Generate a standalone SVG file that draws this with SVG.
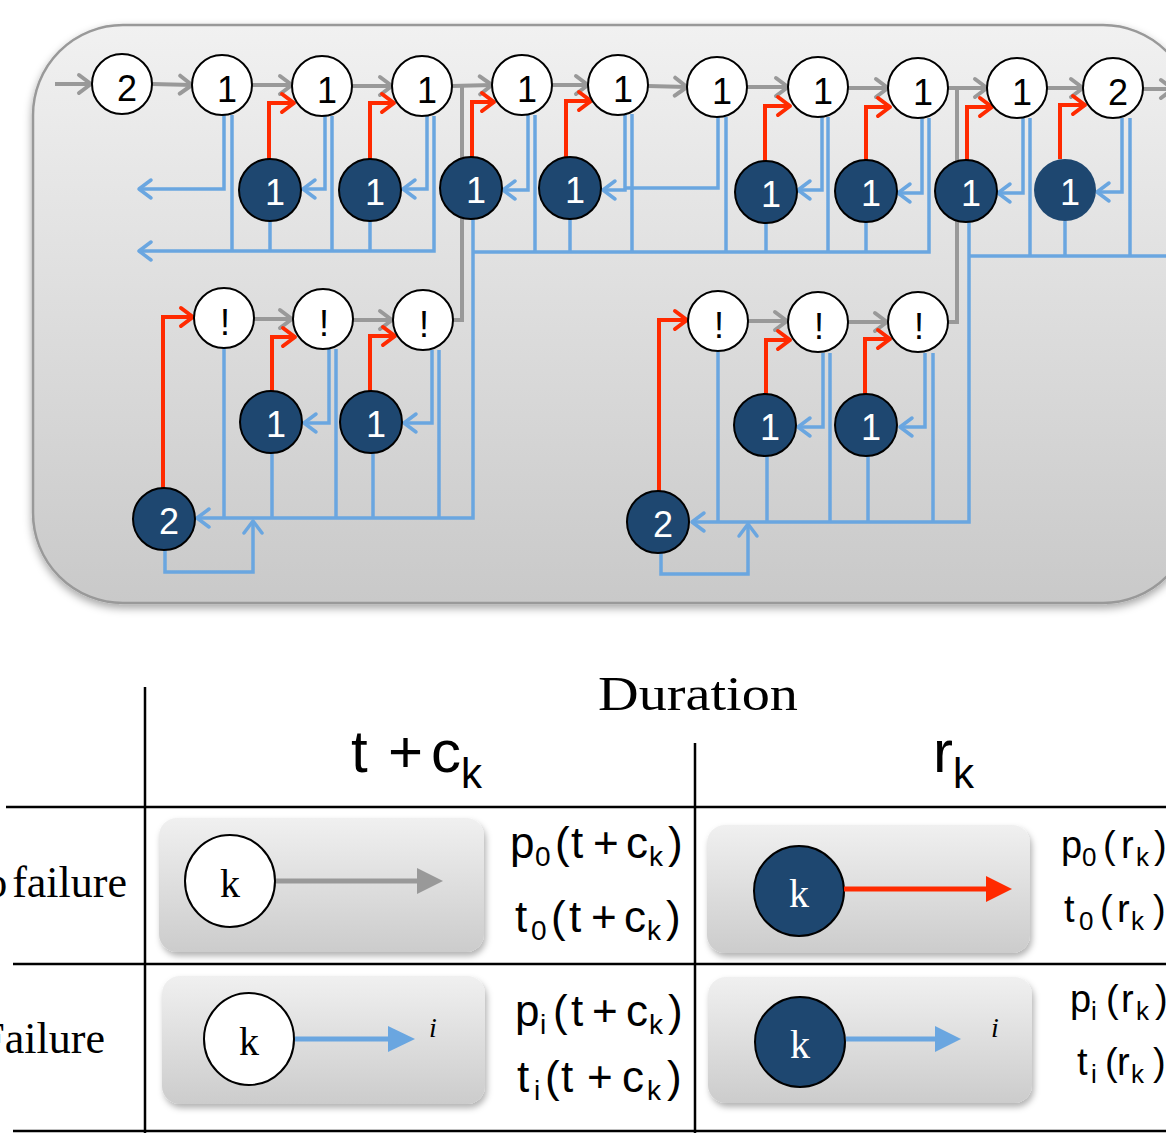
<svg xmlns="http://www.w3.org/2000/svg" width="1166" height="1133" viewBox="0 0 1166 1133">
<defs>
<linearGradient id="fg" x1="0" y1="0" x2="0" y2="1"><stop offset="0" stop-color="#f1f1f1"/><stop offset="1" stop-color="#c9c9c9"/></linearGradient>
<linearGradient id="bxg" x1="0" y1="0" x2="0" y2="1"><stop offset="0" stop-color="#f0f0f0"/><stop offset="1" stop-color="#cccccc"/></linearGradient>
<filter id="sh" x="-10%" y="-10%" width="120%" height="130%"><feDropShadow dx="0" dy="4" stdDeviation="4" flood-color="#000" flood-opacity="0.35"/></filter>
<filter id="sh2" x="-10%" y="-10%" width="120%" height="130%"><feDropShadow dx="2" dy="4" stdDeviation="3" flood-color="#000" flood-opacity="0.3"/></filter>
<marker id="mg" viewBox="-15 -12 18 24" refX="0" refY="0" markerWidth="18" markerHeight="24" markerUnits="userSpaceOnUse" orient="auto"><path d="M-12,-9 L0,0 L-12,9" fill="none" stroke="#999" stroke-width="4" stroke-linecap="round" stroke-linejoin="round"/></marker>
<marker id="mr" viewBox="-15 -12 18 24" refX="0" refY="0" markerWidth="18" markerHeight="24" markerUnits="userSpaceOnUse" orient="auto"><path d="M-12,-9 L0,0 L-12,9" fill="none" stroke="#ff2a00" stroke-width="4" stroke-linecap="round" stroke-linejoin="round"/></marker>
<marker id="mb" viewBox="-15 -12 18 24" refX="0" refY="0" markerWidth="18" markerHeight="24" markerUnits="userSpaceOnUse" orient="auto"><path d="M-12,-9 L0,0 L-12,9" fill="none" stroke="#6aa6e0" stroke-width="3.5" stroke-linecap="round" stroke-linejoin="round"/></marker>
</defs>
<style>
.g{fill:none;stroke:#999;stroke-width:4}
.r{fill:none;stroke:#ff2a00;stroke-width:4}
.b{fill:none;stroke:#6aa6e0;stroke-width:3.5}
.ga{marker-end:url(#mg)}
.ra{marker-end:url(#mr)}
.ba{marker-end:url(#mb)}
.wn circle{fill:#fff;stroke:#000;stroke-width:2}
.dn circle{fill:#1e4770;stroke:#000;stroke-width:2}
.wn text{fill:#000;font-family:"Liberation Sans",Arial,sans-serif;font-size:36px;text-anchor:middle}
.dn text{fill:#fff;font-family:"Liberation Sans",Arial,sans-serif;font-size:36px;text-anchor:middle}
.box{fill:url(#bxg);filter:url(#sh2)}
.tl{stroke:#000;stroke-width:2.5;fill:none}
.ser{font-family:"Liberation Serif","Times New Roman",serif}
.sans{font-family:"Liberation Sans",Arial,sans-serif}
.kw{fill:#fff;stroke:#000;stroke-width:2}
.kd{fill:#1e4770;stroke:#000;stroke-width:2}
</style>

<rect id="frame" x="33" y="25" width="1160" height="578" rx="90" ry="90" fill="url(#fg)" stroke="#999" stroke-width="2.5" filter="url(#sh)"/>

<g id="connectors">
<path class="g ga" d="M55,84 H91"/>
<path class="g ga" d="M152,84 L192,85"/>
<path class="g ga" d="M252,85 H292"/>
<path class="g ga" d="M352,86 H392"/>
<path class="g ga" d="M452,86 L492,85"/>
<path class="g ga" d="M552,85 H588"/>
<path class="g ga" d="M648,86 L687,87"/>
<path class="g ga" d="M747,87 H788"/>
<path class="g ga" d="M848,88 H888"/>
<path class="g ga" d="M948,88 H987"/>
<path class="g ga" d="M1047,88 H1083"/>
<path class="g ga" d="M1143,89 H1173"/>
<path class="g" d="M453,320 H462 V86"/>
<path class="g" d="M948,322 H957 V88"/>
<path class="g ga" d="M254,319 H292"/>
<path class="g ga" d="M353,320 H392"/>
<path class="g ga" d="M748,321 H787"/>
<path class="g ga" d="M848,322 H887"/>
<path class="r ra" d="M269,159 V103 H294"/>
<path class="r ra" d="M370,159 V103 H394"/>
<path class="r ra" d="M472,157 V102 H494"/>
<path class="r ra" d="M566,157 V101 H591"/>
<path class="r ra" d="M765,161 V106 H790"/>
<path class="r ra" d="M866,160 V107 H890"/>
<path class="r ra" d="M967,160 V107 H992"/>
<path class="r ra" d="M1060,159 V105 H1085"/>
<path class="r ra" d="M163,488 V317 H193"/>
<path class="r ra" d="M272,391 V337 H295"/>
<path class="r ra" d="M370,391 V336 H395"/>
<path class="r ra" d="M659,491 V320 H687"/>
<path class="r ra" d="M766,394 V340 H790"/>
<path class="r ra" d="M865,394 V339 H890"/>
<path class="b ba" d="M224,115 V189 H139"/>
<path class="b ba" d="M434,116 V251 H139"/>
<path class="b ba" d="M325,116 V189 H303"/>
<path class="b ba" d="M427,116 V189 H403"/>
<path class="b ba" d="M528,115 V190 H503"/>
<path class="b ba" d="M625,114 V190 H603"/>
<path class="b ba" d="M822,117 V190 H798"/>
<path class="b ba" d="M922,118 V193 H898"/>
<path class="b ba" d="M1023,118 V193 H998"/>
<path class="b ba" d="M1122,118 V192 H1097"/>
<path class="b ba" d="M329,349 V423 H304"/>
<path class="b ba" d="M432,350 V423 H404"/>
<path class="b ba" d="M473,219 V518 H197"/>
<path class="b ba" d="M165,550 V572 H253 V521"/>
<path class="b ba" d="M823,353 V427 H798"/>
<path class="b ba" d="M925,353 V427 H900"/>
<path class="b ba" d="M969,222 V522 H692"/>
<path class="b ba" d="M661,553 V574 H748 V524"/>
<path class="b" d="M232,115 V251"/>
<path class="b" d="M270,221 V251"/>
<path class="b" d="M332,116 V251"/>
<path class="b" d="M370,221 V251"/>
<path class="b" d="M473,252 H929 V118"/>
<path class="b" d="M535,115 V252"/>
<path class="b" d="M570,219 V252"/>
<path class="b" d="M632,114 V252"/>
<path class="b" d="M718,117 V188 H626"/>
<path class="b" d="M726,117 V252"/>
<path class="b" d="M766,223 V252"/>
<path class="b" d="M828,117 V252"/>
<path class="b" d="M866,222 V252"/>
<path class="b" d="M969,256 H1170"/>
<path class="b" d="M1030,118 V256"/>
<path class="b" d="M1065,221 V256"/>
<path class="b" d="M1130,118 V256"/>
<path class="b" d="M224,348 V518"/>
<path class="b" d="M336,349 V518"/>
<path class="b" d="M272,453 V518"/>
<path class="b" d="M373,453 V518"/>
<path class="b" d="M439,350 V518"/>
<path class="b" d="M718,352 V522"/>
<path class="b" d="M830,353 V522"/>
<path class="b" d="M767,456 V522"/>
<path class="b" d="M868,456 V522"/>
<path class="b" d="M933,353 V522"/>
</g>

<g id="T1" class="wn"><circle cx="122" cy="84" r="30"/><text x="127" y="101">2</text></g>
<g id="T2" class="wn"><circle cx="222" cy="85" r="30"/><text x="227" y="102">1</text></g>
<g id="T3" class="wn"><circle cx="322" cy="86" r="30"/><text x="327" y="103">1</text></g>
<g id="T4" class="wn"><circle cx="422" cy="86" r="30"/><text x="427" y="103">1</text></g>
<g id="T5" class="wn"><circle cx="522" cy="85" r="30"/><text x="527" y="102">1</text></g>
<g id="T6" class="wn"><circle cx="618" cy="85" r="30"/><text x="623" y="102">1</text></g>
<g id="T7" class="wn"><circle cx="717" cy="87" r="30"/><text x="722" y="104">1</text></g>
<g id="T8" class="wn"><circle cx="818" cy="87" r="30"/><text x="823" y="104">1</text></g>
<g id="T9" class="wn"><circle cx="918" cy="88" r="30"/><text x="923" y="105">1</text></g>
<g id="T10" class="wn"><circle cx="1017" cy="88" r="30"/><text x="1022" y="105">1</text></g>
<g id="T11" class="wn"><circle cx="1113" cy="88" r="30"/><text x="1118" y="105">2</text></g>

<g id="D1" class="dn"><circle cx="270" cy="190" r="31"/><text x="275" y="205">1</text></g>
<g id="D2" class="dn"><circle cx="370" cy="190" r="31"/><text x="375" y="205">1</text></g>
<g id="D3" class="dn"><circle cx="471" cy="188" r="31"/><text x="476" y="203">1</text></g>
<g id="D4" class="dn"><circle cx="570" cy="188" r="31"/><text x="575" y="203">1</text></g>
<g id="D5" class="dn"><circle cx="766" cy="192" r="31"/><text x="771" y="207">1</text></g>
<g id="D6" class="dn"><circle cx="866" cy="191" r="31"/><text x="871" y="206">1</text></g>
<g id="D7" class="dn"><circle cx="966" cy="191" r="31"/><text x="971" y="206">1</text></g>
<g id="D8" class="dn"><circle cx="1065" cy="190" r="31" style="stroke:none"/><text x="1070" y="205">1</text></g>

<g id="LA" class="wn"><circle cx="224" cy="318" r="30"/><text x="225" y="335">!</text></g>
<g id="LB" class="wn"><circle cx="323" cy="319" r="30"/><text x="324" y="336">!</text></g>
<g id="LC" class="wn"><circle cx="423" cy="320" r="30"/><text x="424" y="337">!</text></g>
<g id="LD1" class="dn"><circle cx="271" cy="422" r="31"/><text x="276" y="437">1</text></g>
<g id="LD2" class="dn"><circle cx="371" cy="422" r="31"/><text x="376" y="437">1</text></g>
<g id="L2" class="dn"><circle cx="164" cy="519" r="31"/><text x="169" y="534">2</text></g>

<g id="RA" class="wn"><circle cx="718" cy="321" r="30"/><text x="719" y="338">!</text></g>
<g id="RB" class="wn"><circle cx="818" cy="322" r="30"/><text x="819" y="339">!</text></g>
<g id="RC" class="wn"><circle cx="918" cy="322" r="30"/><text x="919" y="339">!</text></g>
<g id="RD1" class="dn"><circle cx="765" cy="425" r="31"/><text x="770" y="440">1</text></g>
<g id="RD2" class="dn"><circle cx="866" cy="425" r="31"/><text x="871" y="440">1</text></g>
<g id="R2" class="dn"><circle cx="658" cy="522" r="31"/><text x="663" y="537">2</text></g>

<g id="table">
<path class="tl" d="M145,687 V1133 M695,743 V1133 M6,807 H1166 M13,964 H1166 M13,1131 H1166"/>
<text class="ser" x="598" y="710" font-size="48" textLength="200" lengthAdjust="spacingAndGlyphs">Duration</text>
<text class="sans" y="772" font-size="60"><tspan x="351">t</tspan><tspan x="388">+</tspan><tspan x="431">c</tspan><tspan x="461" y="788" font-size="42">k</tspan></text>
<text class="sans" y="772" font-size="60"><tspan x="933">r</tspan><tspan x="953" y="788" font-size="42">k</tspan></text>
<text class="ser" x="127" y="897" font-size="44" text-anchor="end" word-spacing="-6">No failure</text>
<text class="ser" x="105" y="1053" font-size="44" text-anchor="end">Failure</text>
</g>

<g id="cell-nf-t">
<rect class="box" x="159" y="818" width="325" height="134" rx="18"/>
<ellipse class="kw" cx="230" cy="881" rx="45" ry="46"/>
<text class="ser" x="230" y="897" font-size="40" text-anchor="middle">k</text>
<line x1="276" y1="881" x2="420" y2="881" stroke="#999" stroke-width="5"/>
<polygon points="417,868 443,881 417,894" fill="#999"/>
<text class="sans" y="858" font-size="44"><tspan x="510">p</tspan><tspan x="535" y="866" font-size="28">0</tspan><tspan x="555" y="858">(</tspan><tspan x="571">t</tspan><tspan x="593">+</tspan><tspan x="626">c</tspan><tspan x="649" y="866" font-size="28">k</tspan><tspan x="668" y="858">)</tspan></text>
<text class="sans" y="932" font-size="44"><tspan x="515">t</tspan><tspan x="531" y="940" font-size="28">0</tspan><tspan x="551" y="932">(</tspan><tspan x="569">t</tspan><tspan x="591">+</tspan><tspan x="624">c</tspan><tspan x="647" y="940" font-size="28">k</tspan><tspan x="666" y="932">)</tspan></text>
</g>

<g id="cell-f-t">
<rect class="box" x="162" y="976" width="323" height="128" rx="18"/>
<ellipse class="kw" cx="249" cy="1039" rx="45" ry="46"/>
<text class="ser" x="249" y="1055" font-size="40" text-anchor="middle">k</text>
<line x1="295" y1="1039" x2="392" y2="1039" stroke="#6aa6e0" stroke-width="5"/>
<polygon points="388,1026 415,1039 388,1052" fill="#6aa6e0"/>
<text class="ser" x="429" y="1037" font-size="28" font-style="italic">i</text>
<text class="sans" y="1026" font-size="44"><tspan x="515">p</tspan><tspan x="540" y="1034" font-size="28">i</tspan><tspan x="553" y="1026">(</tspan><tspan x="571">t</tspan><tspan x="592">+</tspan><tspan x="626">c</tspan><tspan x="649" y="1034" font-size="28">k</tspan><tspan x="668" y="1026">)</tspan></text>
<text class="sans" y="1092" font-size="44"><tspan x="517">t</tspan><tspan x="534" y="1100" font-size="28">i</tspan><tspan x="545" y="1092">(</tspan><tspan x="561">t</tspan><tspan x="587">+</tspan><tspan x="622">c</tspan><tspan x="647" y="1100" font-size="28">k</tspan><tspan x="667" y="1092">)</tspan></text>
</g>

<g id="cell-nf-r">
<rect class="box" x="707" y="825" width="323" height="128" rx="18"/>
<circle class="kd" cx="799" cy="891" r="45"/>
<text class="ser" x="799" y="907" font-size="40" text-anchor="middle" fill="#fff">k</text>
<line x1="844" y1="889" x2="990" y2="889" stroke="#ff2a00" stroke-width="5"/>
<polygon points="986,876 1012,889 986,902" fill="#ff2a00"/>
<text class="sans" y="858" font-size="38"><tspan x="1061">p</tspan><tspan x="1082" y="866" font-size="26">0</tspan><tspan x="1103" y="858">(</tspan><tspan x="1121">r</tspan><tspan x="1136" y="866" font-size="26">k</tspan><tspan x="1154" y="858">)</tspan></text>
<text class="sans" y="922" font-size="38"><tspan x="1064">t</tspan><tspan x="1079" y="930" font-size="26">0</tspan><tspan x="1100" y="922">(</tspan><tspan x="1117">r</tspan><tspan x="1131" y="930" font-size="26">k</tspan><tspan x="1153" y="922">)</tspan></text>
</g>

<g id="cell-f-r">
<rect class="box" x="708" y="977" width="324" height="126" rx="18"/>
<circle class="kd" cx="800" cy="1042" r="45"/>
<text class="ser" x="800" y="1058" font-size="40" text-anchor="middle" fill="#fff">k</text>
<line x1="846" y1="1039" x2="938" y2="1039" stroke="#6aa6e0" stroke-width="5"/>
<polygon points="935,1026 961,1039 935,1052" fill="#6aa6e0"/>
<text class="ser" x="991" y="1037" font-size="28" font-style="italic">i</text>
<text class="sans" y="1012" font-size="38"><tspan x="1070">p</tspan><tspan x="1091" y="1020" font-size="26">i</tspan><tspan x="1106" y="1012">(</tspan><tspan x="1121">r</tspan><tspan x="1136" y="1020" font-size="26">k</tspan><tspan x="1155" y="1012">)</tspan></text>
<text class="sans" y="1075" font-size="38"><tspan x="1077">t</tspan><tspan x="1091" y="1083" font-size="26">i</tspan><tspan x="1105" y="1075">(</tspan><tspan x="1117">r</tspan><tspan x="1131" y="1083" font-size="26">k</tspan><tspan x="1153" y="1075">)</tspan></text>
</g>
</svg>
